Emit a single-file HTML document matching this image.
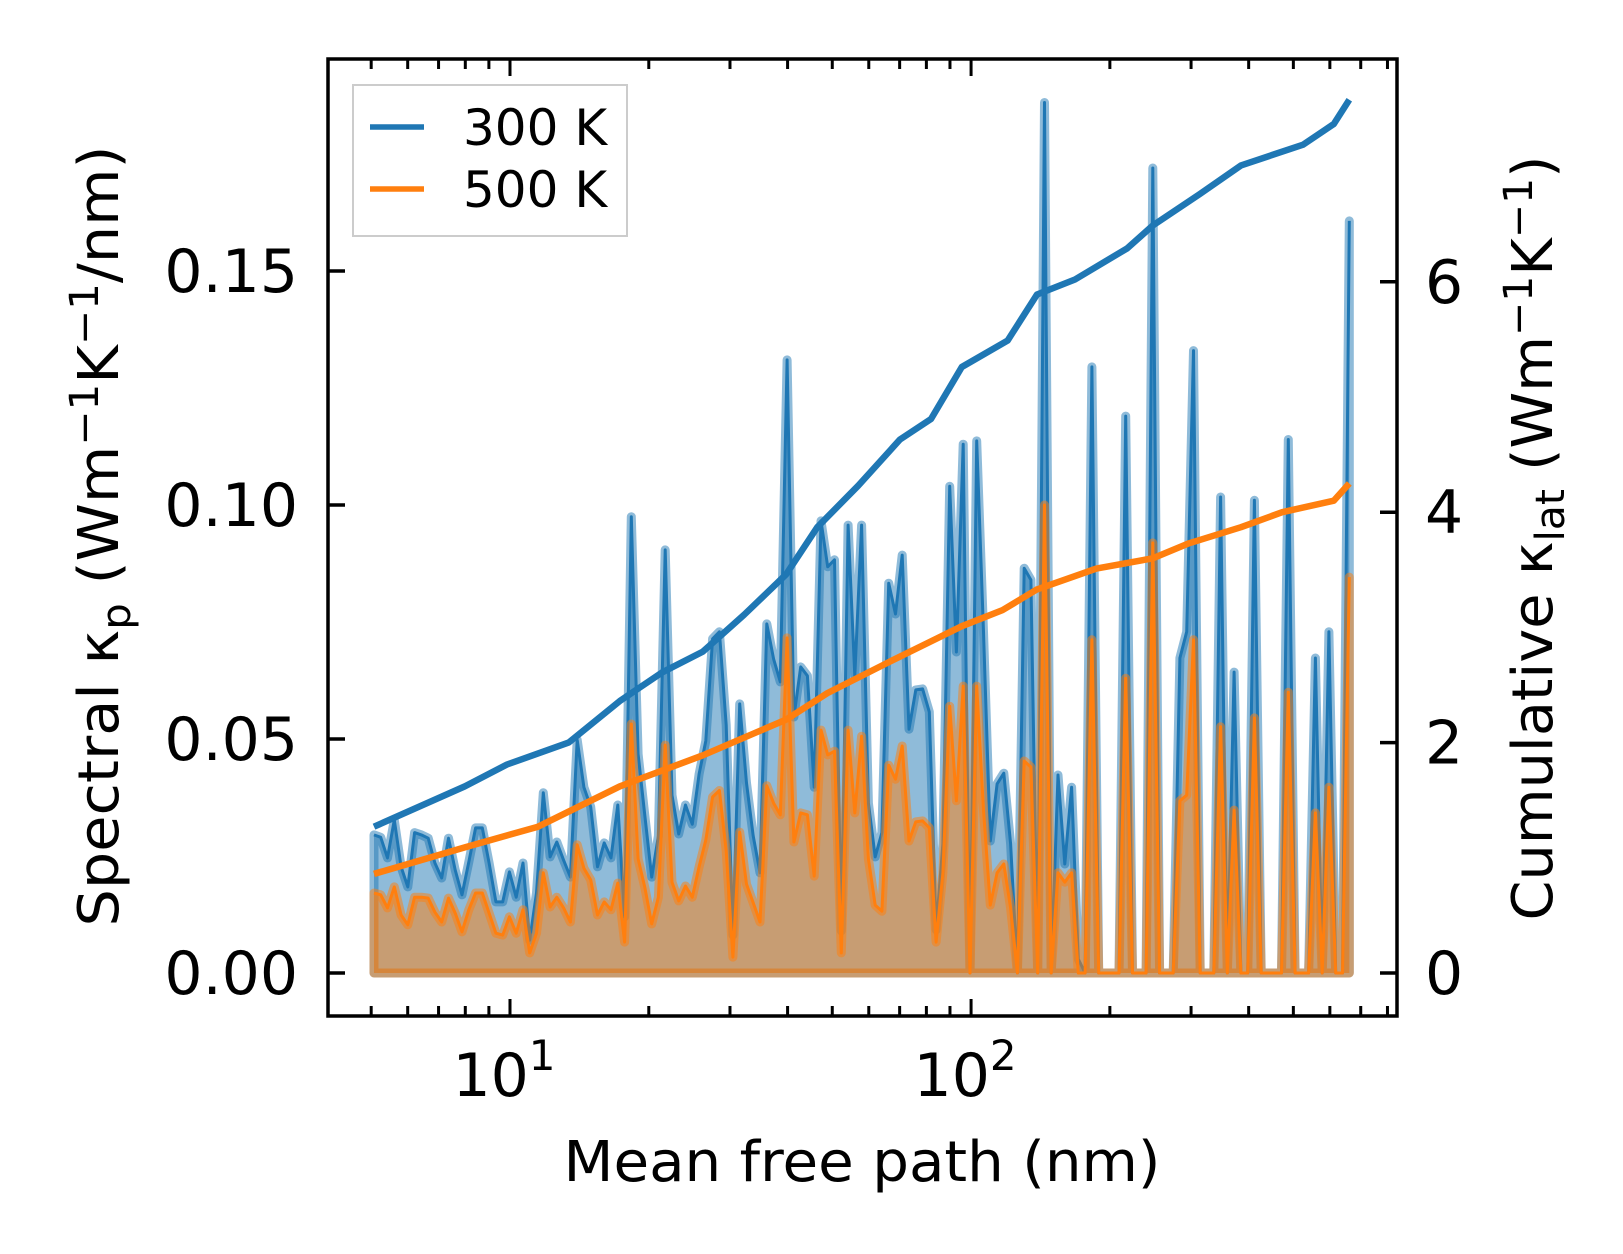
<!DOCTYPE html>
<html>
<head>
<meta charset="utf-8">
<style>
html,body{margin:0;padding:0;background:#fff;}
svg{display:block;font-family:"DejaVu Sans","Liberation Sans",sans-serif;}
</style>
</head>
<body>
<svg id="chart" width="1623" height="1254" viewBox="0 0 1623 1254" xmlns="http://www.w3.org/2000/svg">
  <rect x="0" y="0" width="1623" height="1254" fill="#ffffff"/>
  <g id="plot"></g>
  <g id="axes"></g>
  <text x="862" y="1181" font-size="56" text-anchor="middle" textLength="597" lengthAdjust="spacingAndGlyphs">Mean free path (nm)</text>
  <text transform="translate(118,536) rotate(-90)" font-size="56" text-anchor="middle" textLength="781" lengthAdjust="spacingAndGlyphs">Spectral κ<tspan font-size="40" dy="12">p</tspan><tspan dy="-12"> (Wm</tspan><tspan font-size="40" dy="-20">−1</tspan><tspan dy="20">K</tspan><tspan font-size="40" dy="-20">−1</tspan><tspan dy="20">/nm)</tspan></text>
  <text transform="translate(1552,538) rotate(-90)" font-size="56" text-anchor="middle" textLength="765" lengthAdjust="spacingAndGlyphs">Cumulative κ<tspan font-size="40" dy="12">lat</tspan><tspan dy="-12"> (Wm</tspan><tspan font-size="40" dy="-20">−1</tspan><tspan dy="20">K</tspan><tspan font-size="40" dy="-20">−1</tspan><tspan dy="20">)</tspan></text>
  <g>
    <rect x="353" y="85" width="274" height="151" fill="#ffffff" fill-opacity="0.8" stroke="#cccccc" stroke-width="2"/>
    <line x1="370" y1="127" x2="424" y2="127" stroke="#1f77b4" stroke-width="5.5"/>
    <text x="463" y="145" font-size="50">300 K</text>
    <line x1="370" y1="189" x2="424" y2="189" stroke="#ff7f0e" stroke-width="5.5"/>
    <text x="463" y="207" font-size="50">500 K</text>
  </g>
</svg>
<script>
// Spectral data: bins evenly spaced in log(MFP)
const mfpStart = 5.07;
const mfpEnd = 661;
const spec300 = [0.0295,0.029,0.0246,0.0327,0.0227,0.0184,0.030,0.0295,0.0288,0.0235,0.0203,0.0288,0.022,0.0167,0.0237,0.031,0.031,0.0235,0.0152,0.0152,0.0216,0.0162,0.0235,0.007,0.0171,0.0385,0.0248,0.028,0.0241,0.0205,0.0498,0.0397,0.0355,0.0227,0.0278,0.0246,0.0359,0.012,
0.0975,0.0468,0.0335,0.0205,0.0293,0.0904,0.038,0.0297,0.0359,0.0318,0.0425,0.0496,0.0714,0.0729,0.053,0.0081,0.0575,0.0406,0.0293,0.0214,0.0746,0.0671,0.0622,0.131,0.0547,0.0654,0.0635,0.0397,0.0966,0.0868,0.0883,0.009,0.0957,0.0635,0.0957,0.0363,0.0248,
0.030,0.0833,0.0767,0.0893,0.0521,0.0605,
0.0607,0.0558,0.0092,0.0276,0.104,0.0686,0.113,0,0.1137,0.0729,0.0282,0.0404,0.0427,0.0276,0,0.0865,0.084,0,0.186,
0,0.0423,0.0233,0.0397,0.003,0,0.1295,0,0,0,0,0.119,0,0,0,
0.172,0,0,0,0.0673,0.0729,0.133,0,0,0,0.1017,0,0.0643,0,0,0.101,0,0,0,0,0.114,0,0,0,0.0673,0,0.0729,0,0,0.1607];
const spec500 = [0.0171,0.0167,0.0139,0.0184,0.0124,0.0103,0.0162,0.0162,0.016,0.013,0.0109,0.016,0.0128,0.0088,0.0135,0.0171,0.0171,0.0128,0.0085,0.0081,0.012,0.0085,0.0135,0.0043,0.0085,0.0214,0.0141,0.0162,0.0139,0.0109,0.0274,0.0224,0.0199,0.0124,0.0152,0.0135,0.0192,0.0066,
0.0532,0.0244,0.0182,0.0105,0.0162,0.0487,0.0194,0.0154,0.0186,0.0162,0.0227,0.0284,0.0376,0.039,0.0261,0.0034,0.0301,0.019,0.015,0.0109,0.040,0.0363,0.0338,0.0716,0.028,0.0342,0.0338,0.0207,0.0519,0.0466,0.0474,0.0043,0.0519,0.0342,0.0506,0.0244,0.0145,
0.0132,0.0444,0.0414,0.0485,0.0282,0.0323,
0.0325,0.031,0.0066,0.0214,0.057,0.0368,0.0613,0,0.0613,0.0348,0.0145,0.0214,0.0233,0.0139,0,0.0453,0.044,0,0.100,
0,0.0214,0.0194,0.0214,0,0,0.0712,0,0,0,0,0.063,0,0,0,
0.0919,0,0,0,0.0368,0.038,0.0712,0,0,0,0.0526,0,0.0348,0,0,0.0545,0,0,0,0,0.060,0,0,0,0.0342,0,0.0397,0,0,0.0846];
// Cumulative data
const cumMfp300 = [5.07,7.98,9.85,13.4,17.3,21.4,26.2,32.2,39.7,46.4,56.9,70.1,81.9,95.5,120,139,168,218,248,313,385,525,612,661];
const cum300 = [1.27,1.62,1.81,2.0,2.36,2.61,2.79,3.11,3.46,3.87,4.23,4.63,4.81,5.26,5.49,5.89,6.02,6.29,6.49,6.76,7.01,7.19,7.37,7.58];
const cumMfp500 = [5.07,7.98,11.5,17.3,26.2,39.7,48.8,66.4,95.5,117,139,187,248,297,385,473,612,661];
const cum500 = [0.86,1.09,1.27,1.62,1.89,2.20,2.43,2.70,3.01,3.15,3.33,3.51,3.60,3.73,3.87,4.00,4.10,4.25];
const leftTicks = [0, 0.05, 0.10, 0.15];
const leftTickLabels = ["0.00","0.05","0.10","0.15"];
const rightTicks = [0, 2, 4, 6];
const rightTickLabels = ["0","2","4","6"];
const xMajorTicks = [10, 100];
const xMajorExp = ["1","2"];

const NS = "http://www.w3.org/2000/svg";
const L = 328, R = 1397, T = 59, B = 1016;
const xLogMin = Math.log10(4.03), xLogMax = Math.log10(839);
function xScale(v){ return L + (Math.log10(v) - xLogMin) / (xLogMax - xLogMin) * (R - L); }
function yLeft(v){ return 973 - v / 0.05 * 234; }
function yRight(v){ return 973 - v * 115.2; }
function mk(tag, attrs, parent){
  const e = document.createElementNS(NS, tag);
  for (const k in attrs) e.setAttribute(k, attrs[k]);
  parent.appendChild(e);
  return e;
}
const plot = document.getElementById('plot');
const axes = document.getElementById('axes');
const n = spec300.length;
const mfp = [];
for (let i = 0; i < n; i++) mfp.push(Math.pow(10, Math.log10(mfpStart) + i * (Math.log10(mfpEnd) - Math.log10(mfpStart)) / (n - 1)));

function areaPath(vals){
  let d = 'M' + xScale(mfp[0]).toFixed(1) + ',' + yLeft(0).toFixed(1);
  for (let i = 0; i < vals.length; i++) d += 'L' + xScale(mfp[i]).toFixed(1) + ',' + yLeft(vals[i]).toFixed(1);
  d += 'L' + xScale(mfp[vals.length-1]).toFixed(1) + ',' + yLeft(0).toFixed(1) + 'Z';
  return d;
}
function linePath(vals){
  let d = '';
  for (let i = 0; i < vals.length; i++) d += (i ? 'L' : 'M') + xScale(mfp[i]).toFixed(1) + ',' + yLeft(vals[i]).toFixed(1);
  return d;
}
function cumPath(xs, ys){
  let d = '';
  for (let i = 0; i < xs.length; i++) d += (i ? 'L' : 'M') + xScale(xs[i]).toFixed(1) + ',' + yRight(ys[i]).toFixed(1);
  return d;
}
// 300 K spectral
const a3 = mk('path', {d: areaPath(spec300), fill: 'rgba(31,119,180,0.5)', stroke: 'rgba(31,119,180,0.5)', 'stroke-width': 9, 'stroke-linejoin': 'round'}, plot);


const l3 = mk('path', {d: linePath(spec300), fill: 'none', stroke: '#1f77b4', 'stroke-width': 3, 'stroke-linejoin': 'round'}, plot);


// 500 K spectral
const a5 = mk('path', {d: areaPath(spec500), fill: 'rgba(255,127,14,0.5)', stroke: 'rgba(255,127,14,0.5)', 'stroke-width': 9, 'stroke-linejoin': 'round'}, plot);


const l5 = mk('path', {d: linePath(spec500), fill: 'none', stroke: '#ff7f0e', 'stroke-width': 3, 'stroke-linejoin': 'round'}, plot);


// cumulative
const c3 = mk('path', {d: cumPath(cumMfp300, cum300), fill: 'none', stroke: '#1f77b4', 'stroke-width': 6.5, 'stroke-linejoin': 'round'}, plot);


const c5 = mk('path', {d: cumPath(cumMfp500, cum500), fill: 'none', stroke: '#ff7f0e', 'stroke-width': 6.5, 'stroke-linejoin': 'round'}, plot);



// frame
const frame = mk('rect', {x: L, y: T, width: R-L, height: B-T, fill: 'none', stroke: '#000', 'stroke-width': 3.5}, axes);


// left ticks
leftTicks.forEach((v, i) => {
  const y = yLeft(v);
  const t = mk('line', {x1: L, y1: y, x2: L + 17, y2: y, stroke: '#000', 'stroke-width': 3.5}, axes);
  
  
  const tx = mk('text', {x: 298, y: y + 21, 'font-size': 60, 'text-anchor': 'end'}, axes);
  tx.textContent = leftTickLabels[i];
  
  
});
// right ticks
rightTicks.forEach((v, i) => {
  const y = yRight(v);
  const t = mk('line', {x1: R - 17, y1: y, x2: R, y2: y, stroke: '#000', 'stroke-width': 3.5}, axes);
  
  
  const tx = mk('text', {x: 1425, y: y + 21, 'font-size': 60, 'text-anchor': 'start'}, axes);
  tx.textContent = rightTickLabels[i];
  
  
});
// x ticks (log)
for (let dec = 1; dec <= 100; dec *= 10) {
  for (let m = 1; m <= 9; m++) {
    const v = dec * m;
    if (v < 4.03 || v > 839) continue;
    const x = xScale(v);
    const len = m === 1 ? 17 : 10;
    const tb = mk('line', {x1: x, y1: B, x2: x, y2: B - len, stroke: '#000', 'stroke-width': 3}, axes);
    
    
    const tt = mk('line', {x1: x, y1: T, x2: x, y2: T + len, stroke: '#000', 'stroke-width': 3}, axes);
    
    
  }
}
xMajorTicks.forEach((v, i) => {
  const x = xScale(v);
  const tx = mk('text', {x: x - 6, y: 1096, 'font-size': 60, 'text-anchor': 'middle'}, axes);
  
  
  tx.appendChild(document.createTextNode('10'));
  const sup = document.createElementNS(NS, 'tspan');
  sup.setAttribute('font-size', '42');
  sup.setAttribute('dy', '-26');
  sup.textContent = xMajorExp[i];
  tx.appendChild(sup);
});
</script>
</body>
</html>
